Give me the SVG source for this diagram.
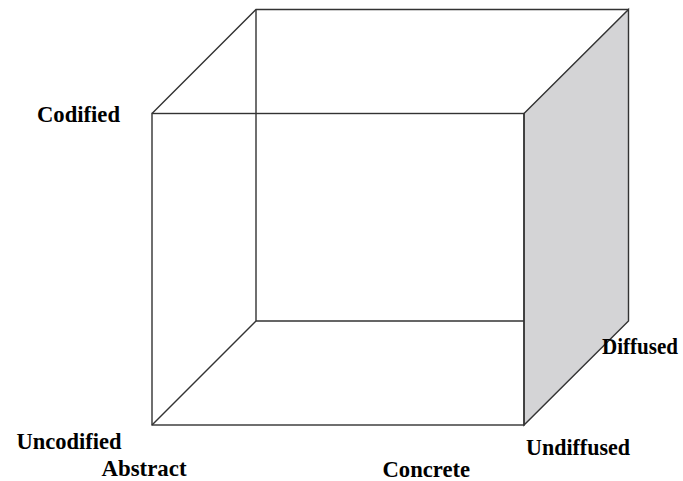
<svg xmlns="http://www.w3.org/2000/svg" width="683" height="481" viewBox="0 0 683 481">
  <style>
    .edge { fill: none; stroke: #333333; stroke-width: 1.4; stroke-linejoin: miter; }
    .side { fill: #d4d4d6; stroke: #333333; stroke-width: 1.4; }
    .label { font-family: "Liberation Serif", "Times New Roman", serif; font-weight: bold; font-size: 24px; fill: #000000; }
  </style>
  <rect width="683" height="481" fill="#ffffff"/>

  <!-- cube outline -->
  <g id="cube">
    <!-- shaded right face -->
    <polygon class="side" points="524,113.5 628.5,9.5 628.5,321 524,425"/>
    <g id="edges">
      <!-- hidden back edges -->
      <polyline class="edge" points="256,9.5 256,321 524,321"/>
      <line class="edge" x1="152" y1="425" x2="256" y2="321"/>
      <!-- top face -->
      <polyline class="edge" points="152,113.5 256,9.5 628.5,9.5"/>
      <!-- front face -->
      <rect class="edge" x="152" y="113.5" width="372" height="311.5"/>
    </g>
  </g>

  <!-- axis labels -->
  <g id="label-codified"><text class="label" x="37" y="121.5" textLength="83" lengthAdjust="spacingAndGlyphs">Codified</text></g>
  <g id="label-uncodified"><text class="label" x="16.5" y="448.5" textLength="105" lengthAdjust="spacingAndGlyphs">Uncodified</text></g>
  <g id="label-abstract"><text class="label" x="101.5" y="476" textLength="85" lengthAdjust="spacingAndGlyphs">Abstract</text></g>
  <g id="label-concrete"><text class="label" x="382.5" y="476.5" textLength="87.5" lengthAdjust="spacingAndGlyphs">Concrete</text></g>
  <g id="label-diffused"><text class="label" x="602" y="354" textLength="76" lengthAdjust="spacingAndGlyphs">Diffused</text></g>
  <g id="label-undiffused"><text class="label" x="526" y="455" textLength="104" lengthAdjust="spacingAndGlyphs">Undiffused</text></g>
</svg>
